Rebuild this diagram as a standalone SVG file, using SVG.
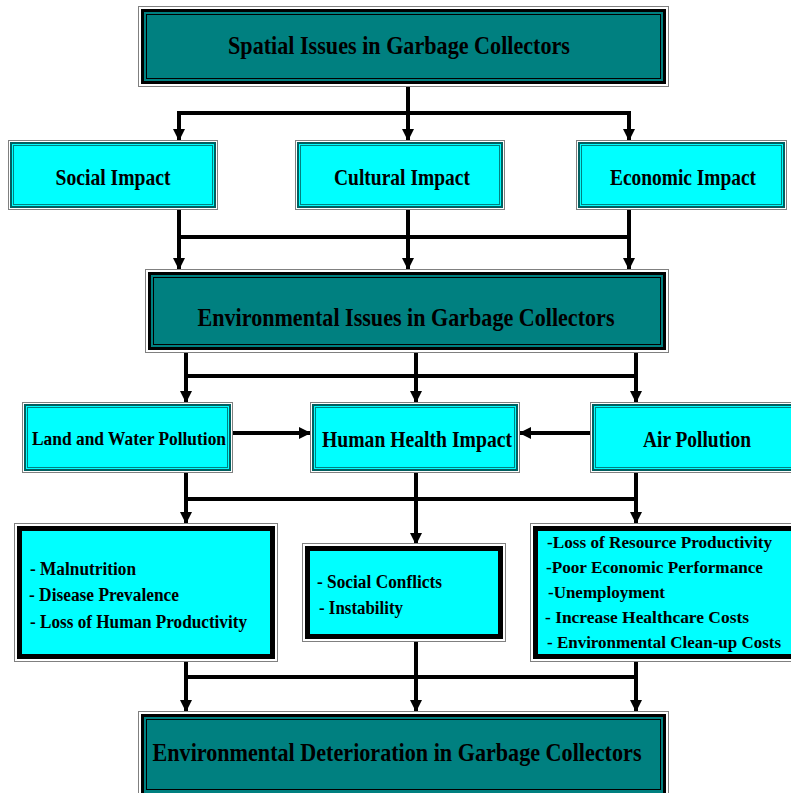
<svg xmlns="http://www.w3.org/2000/svg" width="791" height="793" viewBox="0 0 791 793">
  <style>
    text { font-family: "Liberation Serif", "Times New Roman", serif; font-weight: bold; fill: #000; }
    .frame { fill: #fff; stroke: #808080; stroke-width: 1; }
    .teal { fill: #008080; stroke: #000; stroke-width: 3; }
    .teal-in { fill: none; stroke: #000; stroke-width: 1; }
    .cyan { fill: #00ffff; stroke: #006060; stroke-width: 2; }
    .cyan-in { fill: none; stroke: #008080; stroke-width: 1; }
    .list { fill: #00ffff; stroke: #000; stroke-width: 5; }
    .wire { fill: none; stroke: #000; stroke-width: 4; }
    .head { fill: none; stroke: #000; stroke-width: 4; marker-end: url(#arrow); }
    .t22 { font-size: 26px; }
    .t20 { font-size: 23px; }
    .t17 { font-size: 19px; }
    .t16 { font-size: 18px; }
    .t15 { font-size: 17px; }
  </style>
  <defs>
    <marker id="arrow" markerUnits="userSpaceOnUse" markerWidth="12" markerHeight="12" viewBox="0 0 12 12" refX="12" refY="6" orient="auto">
      <path d="M0,0 L12,6 L0,12 Z" fill="#000"/>
    </marker>
  </defs>

  <!-- connectors -->
  <g id="connectors">
    <path class="wire" d="M408 86 V113 M177 113 H631"/>
    <path class="head" d="M179 113 V141"/>
    <path class="head" d="M408 113 V141"/>
    <path class="head" d="M629 113 V141"/>

    <path class="wire" d="M179 237 H629"/>
    <path class="head" d="M179 209 V270"/>
    <path class="head" d="M408 209 V270"/>
    <path class="head" d="M629 209 V270"/>

    <path class="wire" d="M186 376 H636"/>
    <path class="head" d="M186 352 V403"/>
    <path class="head" d="M416 352 V403"/>
    <path class="head" d="M636 352 V403"/>

    <path class="head" d="M232 433 H311"/>
    <path class="head" d="M591 433 H519"/>

    <path class="wire" d="M186 499 H636"/>
    <path class="head" d="M186 472 V524"/>
    <path class="head" d="M416 472 V545"/>
    <path class="head" d="M636 472 V524"/>

    <path class="wire" d="M186 677 H636"/>
    <path class="head" d="M186 661 V712"/>
    <path class="head" d="M416 641 V712"/>
    <path class="head" d="M636 661 V712"/>
  </g>

  <!-- header -->
  <g id="spatial-issues">
    <rect class="frame" x="138.5" y="6.5" width="530" height="80"/>
    <rect class="teal" x="142.5" y="10.5" width="522" height="72"/>
    <rect class="teal-in" x="146.5" y="14.5" width="514" height="64"/>
    <text class="t22" x="399" y="54" text-anchor="middle" textLength="342" lengthAdjust="spacingAndGlyphs">Spatial Issues in Garbage Collectors</text>
  </g>

  <!-- impact row -->
  <g id="social-impact">
    <rect class="frame" x="8.5" y="140.5" width="209" height="69"/>
    <rect class="cyan" x="11" y="143" width="204" height="64"/>
    <rect class="cyan-in" x="13.5" y="145.5" width="199" height="59"/>
    <text class="t20" x="113" y="185" text-anchor="middle" textLength="115" lengthAdjust="spacingAndGlyphs">Social Impact</text>
  </g>
  <g id="cultural-impact">
    <rect class="frame" x="295.5" y="140.5" width="209" height="69"/>
    <rect class="cyan" x="298" y="143" width="204" height="64"/>
    <rect class="cyan-in" x="300.5" y="145.5" width="199" height="59"/>
    <text class="t20" x="402" y="185" text-anchor="middle" textLength="136" lengthAdjust="spacingAndGlyphs">Cultural Impact</text>
  </g>
  <g id="economic-impact">
    <rect class="frame" x="576.5" y="140.5" width="210" height="69"/>
    <rect class="cyan" x="579" y="143" width="205" height="64"/>
    <rect class="cyan-in" x="581.5" y="145.5" width="200" height="59"/>
    <text class="t20" x="683" y="185" text-anchor="middle" textLength="146" lengthAdjust="spacingAndGlyphs">Economic Impact</text>
  </g>

  <!-- environmental issues -->
  <g id="environmental-issues">
    <rect class="frame" x="145.5" y="269.5" width="523" height="83"/>
    <rect class="teal" x="149.5" y="273.5" width="515" height="75"/>
    <rect class="teal-in" x="153.5" y="277.5" width="507" height="67"/>
    <text class="t22" x="406" y="326" text-anchor="middle" textLength="417" lengthAdjust="spacingAndGlyphs">Environmental Issues in Garbage Collectors</text>
  </g>

  <!-- pollution row -->
  <g id="land-water-pollution">
    <rect class="frame" x="22.5" y="402.5" width="210" height="70"/>
    <rect class="cyan" x="25" y="405" width="205" height="65"/>
    <rect class="cyan-in" x="27.5" y="407.5" width="200" height="60"/>
    <text class="t17" x="129" y="445" text-anchor="middle" textLength="194" lengthAdjust="spacingAndGlyphs">Land and Water Pollution</text>
  </g>
  <g id="human-health-impact">
    <rect class="frame" x="310.5" y="402.5" width="209" height="70"/>
    <rect class="cyan" x="313" y="405" width="204" height="65"/>
    <rect class="cyan-in" x="315.5" y="407.5" width="199" height="60"/>
    <text class="t20" x="417" y="447" text-anchor="middle" textLength="190" lengthAdjust="spacingAndGlyphs">Human Health Impact</text>
  </g>
  <g id="air-pollution">
    <rect class="frame" x="590.5" y="402.5" width="210" height="70"/>
    <rect class="cyan" x="593" y="405" width="205" height="65"/>
    <rect class="cyan-in" x="595.5" y="407.5" width="200" height="60"/>
    <text class="t20" x="697" y="447" text-anchor="middle" textLength="108" lengthAdjust="spacingAndGlyphs">Air Pollution</text>
  </g>

  <!-- consequence lists -->
  <g id="health-effects">
    <rect class="frame" x="14.5" y="523.5" width="263" height="138"/>
    <rect class="list" x="19.5" y="528.5" width="253" height="128"/>
    <text class="t16" x="30" y="575" textLength="106" lengthAdjust="spacingAndGlyphs">- Malnutrition</text>
    <text class="t16" x="29" y="601" textLength="150" lengthAdjust="spacingAndGlyphs">- Disease Prevalence</text>
    <text class="t16" x="30" y="628" textLength="217" lengthAdjust="spacingAndGlyphs">- Loss of Human Productivity</text>
  </g>
  <g id="social-effects">
    <rect class="frame" x="302.5" y="543.5" width="203" height="98"/>
    <rect class="list" x="307.5" y="548.5" width="193" height="88"/>
    <text class="t16" x="317" y="588" textLength="125" lengthAdjust="spacingAndGlyphs">- Social Conflicts</text>
    <text class="t16" x="319" y="614" textLength="84" lengthAdjust="spacingAndGlyphs">- Instability</text>
  </g>
  <g id="economic-effects">
    <rect class="frame" x="530.5" y="523.5" width="270" height="138"/>
    <rect class="list" x="535.5" y="528.5" width="260" height="128"/>
    <text class="t15" x="547" y="548" textLength="225" lengthAdjust="spacingAndGlyphs">-Loss of Resource Productivity</text>
    <text class="t15" x="546" y="573" textLength="217" lengthAdjust="spacingAndGlyphs">-Poor Economic Performance</text>
    <text class="t15" x="548" y="598" textLength="117" lengthAdjust="spacingAndGlyphs">-Unemployment</text>
    <text class="t15" x="545" y="623" textLength="204" lengthAdjust="spacingAndGlyphs">- Increase Healthcare Costs</text>
    <text class="t15" x="547" y="648" textLength="234" lengthAdjust="spacingAndGlyphs">- Environmental Clean-up Costs</text>
  </g>

  <!-- outcome -->
  <g id="environmental-deterioration">
    <rect class="frame" x="138.5" y="711.5" width="530" height="85"/>
    <rect class="teal" x="142.5" y="715.5" width="522" height="80"/>
    <rect class="teal-in" x="146.5" y="719.5" width="514" height="70"/>
    <text class="t22" x="397" y="761" text-anchor="middle" textLength="489" lengthAdjust="spacingAndGlyphs">Environmental Deterioration in Garbage Collectors</text>
  </g>
</svg>
